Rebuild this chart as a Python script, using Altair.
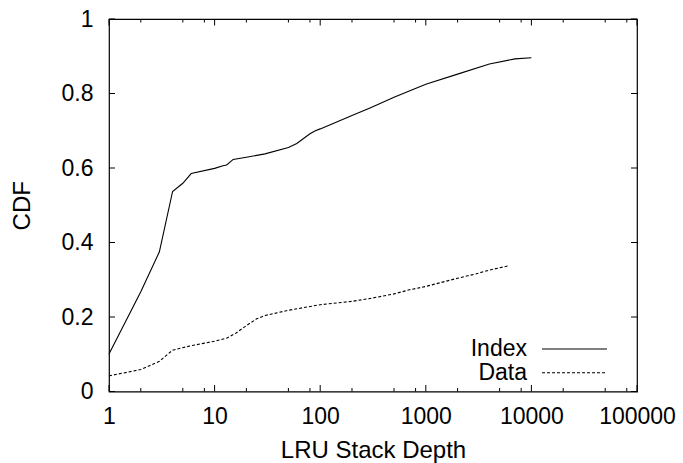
import altair as alt
import pandas as pd

# ---- data ----
series_names = ["Index", "Data"]

index_x = [1, 2, 3, 4, 5, 6, 10, 12, 13, 15, 20, 30, 50, 60, 80, 90, 100,
           200, 300, 500, 1000, 2000, 4000, 7000, 10000]
index_y = [0.101, 0.268, 0.375, 0.537, 0.559, 0.585, 0.599, 0.606, 0.608,
           0.623, 0.629, 0.638, 0.655, 0.666, 0.692, 0.700, 0.705, 0.741,
           0.762, 0.790, 0.825, 0.852, 0.879, 0.893, 0.896]

data_x = [1, 2, 3, 4, 6, 10, 13, 16, 20, 25, 30, 50, 100, 200, 300, 500,
          700, 1000, 2000, 3000, 4000, 6000]
data_y = [0.042, 0.059, 0.081, 0.111, 0.123, 0.135, 0.143, 0.157, 0.177,
          0.195, 0.204, 0.218, 0.233, 0.242, 0.250, 0.262, 0.273, 0.282,
          0.304, 0.316, 0.326, 0.337]

x_major = [1, 10, 100, 1000, 10000, 100000]
x_minor = [2, 5, 8, 20, 50, 80, 200, 500, 800, 2000, 5000, 8000,
           20000, 50000, 80000]
y_major = [0, 0.2, 0.4, 0.6, 0.8, 1]

FONT = "Liberation Sans"
W, H = 528, 372.5
PAD = {"left": 109, "top": 19, "right": 46, "bottom": 71.5}

xscale = alt.Scale(type="log", domain=[1, 100000], nice=False)
yscale = alt.Scale(domain=[0, 1], nice=False, zero=False)

df_index = pd.DataFrame({"x": index_x, "y": index_y})
df_data = pd.DataFrame({"x": data_x, "y": data_y})

xaxis = alt.Axis(values=x_major, format="d", grid=False, ticks=False,
                 domain=False, labelFontSize=23, labelFont=FONT,
                 labelColor="black", labelPadding=14, labelFlush=False,
                 title="LRU Stack Depth", titleFont=FONT, titleFontSize=24,
                 titleFontWeight="normal", titleColor="black",
                 titleBaseline="alphabetic", titleY=66)
yaxis = alt.Axis(values=y_major, format="~g", grid=False, ticks=False,
                 domain=False, labelFontSize=23, labelFont=FONT,
                 labelColor="black", labelPadding=16, labelFlush=False,
                 title="CDF", titleFont=FONT, titleFontSize=24,
                 titleFontWeight="normal", titleColor="black",
                 titleAngle=-90, titleBaseline="middle", titleAlign="center",
                 titleX=-87, titleY=H / 2)

X = alt.X("x:Q", scale=xscale, axis=xaxis)
Y = alt.Y("y:Q", scale=yscale, axis=yaxis)

line_index = alt.Chart(df_index).mark_line(color="black", strokeWidth=1.1).encode(
    x=X, y=Y)
line_data = alt.Chart(df_data).mark_line(color="black", strokeWidth=1.1,
                                         strokeDash=[3, 2]).encode(x=X, y=Y)

# inward ticks (gnuplot style, mirrored on all sides)
dfxM = pd.DataFrame({"x": x_major})
dfxm = pd.DataFrame({"x": x_minor})
dfy = pd.DataFrame({"y": y_major})

def xticks(df, length):
    bottom = alt.Chart(df).mark_rule(color="black", strokeWidth=1).encode(
        x=X, y=alt.value(H), y2=alt.value(H - length))
    top = alt.Chart(df).mark_rule(color="black", strokeWidth=1).encode(
        x=X, y=alt.value(0), y2=alt.value(length))
    return [bottom, top]

yt_left = alt.Chart(dfy).mark_rule(color="black", strokeWidth=1).encode(
    y=Y, x=alt.value(0), x2=alt.value(6))
yt_right = alt.Chart(dfy).mark_rule(color="black", strokeWidth=1).encode(
    y=Y, x=alt.value(W), x2=alt.value(W - 6))

# manual legend: label left of sample line
leg_index_df = pd.DataFrame({"label": [series_names[0]]})
leg_data_df = pd.DataFrame({"label": [series_names[1]]})

leg_text_index = alt.Chart(leg_index_df).mark_text(
    align="right", baseline="middle", fontSize=23, font=FONT, color="black"
).encode(x=alt.value(418), y=alt.value(330), text="label:N")
leg_text_data = alt.Chart(leg_data_df).mark_text(
    align="right", baseline="middle", fontSize=23, font=FONT, color="black"
).encode(x=alt.value(418), y=alt.value(354), text="label:N")
leg_line_index = alt.Chart(leg_index_df).mark_rule(color="black", strokeWidth=1.1).encode(
    x=alt.value(433), x2=alt.value(498), y=alt.value(330))
leg_line_data = alt.Chart(leg_data_df).mark_rule(color="black", strokeWidth=1.1,
                                                  strokeDash=[3, 2]).encode(
    x=alt.value(433), x2=alt.value(498), y=alt.value(353.7))

chart = alt.layer(
    line_index, line_data,
    *xticks(dfxM, 6.5), *xticks(dfxm, 3.5), yt_left, yt_right,
    leg_text_index, leg_text_data, leg_line_index, leg_line_data,
).properties(
    width=W, height=H,
    autosize=alt.AutoSizeParams(type="none"),
    padding=PAD,
    background="white",
).configure_view(stroke="black", strokeWidth=1.2)

chart.save("out.html", embed_options={"renderer": "svg", "actions": False})
